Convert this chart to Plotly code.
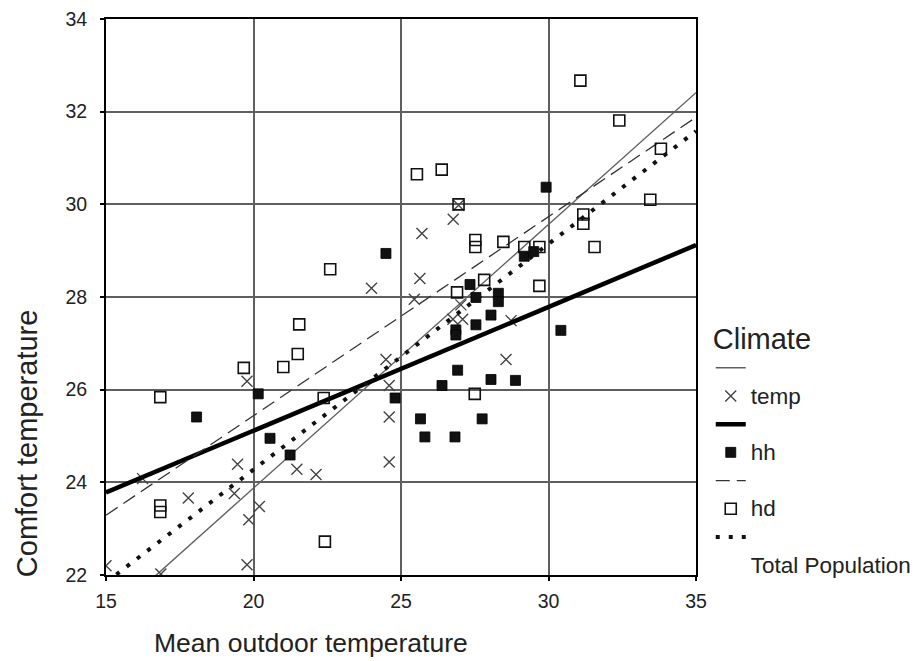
import plotly.graph_objects as go

# ---- data ----
temp_x = [15.0, 16.86, 16.24, 17.79, 19.46, 19.35, 20.2, 19.84, 19.78, 21.47, 22.12,
          24.6, 24.6, 24.0, 19.78, 24.49, 24.6, 26.77, 25.71, 25.64, 25.45, 27.03,
          27.09, 26.76, 28.56, 28.73, 26.95]
temp_y = [22.2, 22.02, 24.08, 23.66, 24.39, 23.76, 23.48, 23.19, 22.22, 24.28, 24.17,
          25.41, 24.44, 28.19, 26.18, 26.65, 26.09, 29.68, 29.37, 28.4, 27.95, 27.83,
          27.52, 27.52, 26.65, 27.49, 29.98]

hh_x = [18.07, 20.16, 20.56, 21.24, 24.8, 24.49, 25.66, 27.75, 25.81, 26.83, 27.34,
        27.54, 28.3, 28.3, 28.05, 27.54, 26.86, 26.86, 30.42, 26.92, 26.39, 28.05,
        28.88, 29.18, 29.5, 29.92]
hh_y = [25.41, 25.91, 24.95, 24.59, 25.82, 28.94, 25.37, 25.37, 24.98, 24.98, 28.27,
        27.99, 28.08, 27.9, 27.61, 27.4, 27.29, 27.18, 27.28, 26.42, 26.09, 26.22,
        26.2, 28.88, 28.98, 30.37]

hd_x = [31.08, 32.4, 33.81, 33.45, 25.54, 26.38, 26.95, 22.6, 21.55, 21.5, 21.01,
        19.67, 16.84, 22.38, 16.84, 16.84, 22.42, 27.52, 27.52, 28.47, 29.18, 29.69,
        31.18, 31.18, 31.56, 29.69, 27.82, 26.9, 27.5]
hd_y = [32.67, 31.81, 31.2, 30.1, 30.65, 30.75, 30.0, 28.6, 27.41, 26.77, 26.49,
        26.47, 25.84, 25.82, 23.5, 23.36, 22.72, 29.23, 29.08, 29.19, 29.08, 29.08,
        29.78, 29.58, 29.08, 28.24, 28.37, 28.1, 25.91]

# fitted lines (values at x = 15 and x = 35)
fit_x = [15, 35]
fit_temp = [21.03, 32.41]
fit_hh = [23.78, 29.12]
fit_hd = [23.29, 31.88]
fit_total = [21.84, 31.58]

x_ticks = [15, 20, 25, 30, 35]
y_ticks = [22, 24, 26, 28, 30, 32, 34]

FONT = "Arial, Liberation Sans, sans-serif"
TXT = "#222222"


def lg(txt):
    return '<span style="font-size:22.5px">' + txt + '</span>'


fig = go.Figure()

fig.add_trace(go.Scatter(x=fit_x, y=fit_temp, mode="lines", name=" ",
                         line=dict(color="#5f5f5f", width=1.4), showlegend=True))
fig.add_trace(go.Scatter(x=temp_x, y=temp_y, mode="markers", name=lg("temp"),
                         marker=dict(symbol="x-thin", size=11, color="#444444",
                                     line=dict(width=1.4, color="#444444"))))
fig.add_trace(go.Scatter(x=fit_x, y=fit_hh, mode="lines", name="  ",
                         line=dict(color="black", width=4.5)))
fig.add_trace(go.Scatter(x=hh_x, y=hh_y, mode="markers", name=lg("hh"),
                         marker=dict(symbol="square", size=10, color="#111111",
                                     line=dict(width=0.8, color="#000000"))))
fig.add_trace(go.Scatter(x=fit_x, y=fit_hd, mode="lines", name="   ",
                         line=dict(color="#333333", width=1.3, dash="14px,7px")))
fig.add_trace(go.Scatter(x=hd_x, y=hd_y, mode="markers", name=lg("hd"),
                         marker=dict(symbol="square-open", size=11, color="#111111",
                                     line=dict(width=1.6, color="#111111"))))
fig.add_trace(go.Scatter(x=fit_x, y=fit_total, mode="lines", name="    ",
                         line=dict(color="#111111", width=4, dash="4px,9px")))
fig.add_trace(go.Scatter(x=[None], y=[None], mode="markers", name=lg("Total Population"),
                         marker=dict(color="rgba(0,0,0,0)", size=1)))

axis_common = dict(showline=True, linecolor="black", linewidth=2, mirror=True,
                   showgrid=True, gridcolor="#5f5f5f", gridwidth=1.5, automargin=False,
                   zeroline=False, ticks="outside", ticklen=4, tickwidth=2,
                   ticklabeloverflow="allow",
                   tickcolor="black", tickfont=dict(family=FONT, size=19.5, color=TXT))

fig.update_xaxes(range=[15, 35], tickvals=x_ticks, ticktext=[str(v) for v in x_ticks],
                 ticklabelstandoff=4, **axis_common)
fig.update_yaxes(range=[22, 34], tickvals=y_ticks, ticktext=[str(v) for v in y_ticks],
                 ticklabelstandoff=9, **axis_common)

fig.update_layout(
    width=920, height=661,
    margin=dict(l=98, r=232, t=11, b=94),
    paper_bgcolor="white", plot_bgcolor="white",
    font=dict(family=FONT, color=TXT),
    legend=dict(x=1.025, y=0.475, xanchor="left", yanchor="top",
                title=dict(text="Climate", font=dict(family=FONT, size=29, color=TXT)),
                font=dict(family=FONT, size=19.4, color=TXT),
                bgcolor="rgba(0,0,0,0)", tracegroupgap=0),
    annotations=[
        dict(text="Mean outdoor temperature", x=0.3475, y=-0.122, xref="paper", yref="paper",
             xanchor="center", yanchor="middle", showarrow=False,
             font=dict(family=FONT, size=26.5, color=TXT)),
        dict(text="Comfort temperature", x=-0.134, y=0.237, xref="paper", yref="paper",
             xanchor="center", yanchor="middle", showarrow=False, textangle=-90,
             font=dict(family=FONT, size=29, color=TXT)),
    ],
)

fig.write_html("out.html")
